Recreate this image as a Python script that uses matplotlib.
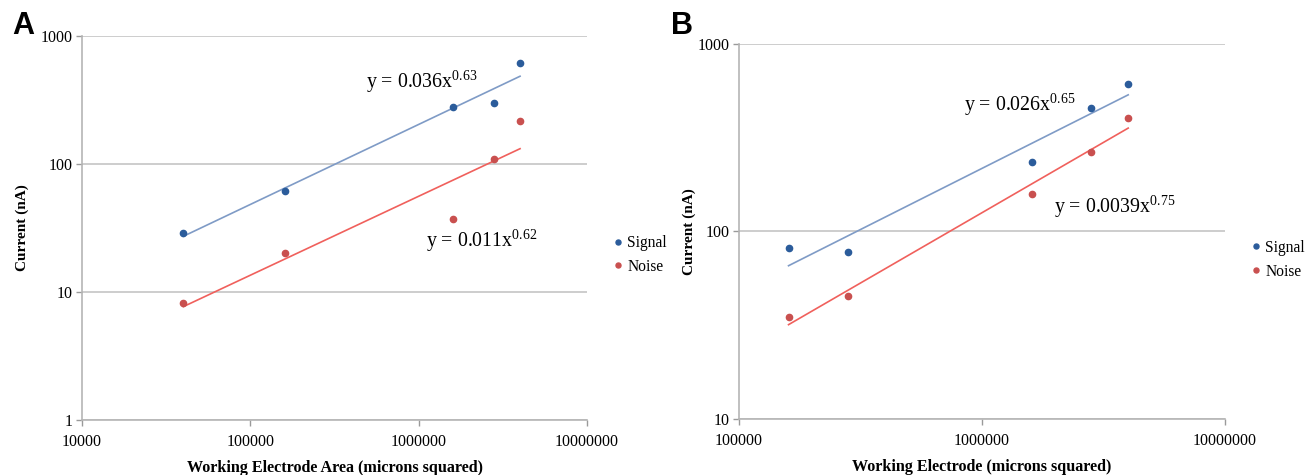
import numpy as np
import matplotlib
matplotlib.use("Agg")
import matplotlib.pyplot as plt
from matplotlib.ticker import FixedLocator, FuncFormatter, NullLocator

# panel A: working electrode area (um^2) vs current (nA)
area_a = [40000, 160000, 1600000, 2800000, 4000000]
signal_a = [28.7, 61.9, 278, 303, 615]
noise_a = [8.15, 20.3, 37, 110, 217]
# panel B
area_b = [160000, 280000, 1600000, 2800000, 4000000]
signal_b = [81.8, 77.6, 236, 454, 612]
noise_b = [35.0, 45.2, 159, 265, 402]

eq_a = ["y = 0.036x$^{0.63}$", "y = 0.011x$^{0.62}$"]
eq_b = ["y = 0.026x$^{0.65}$", "y = 0.0039x$^{0.75}$"]

SIG = "#2b5c9b"
NOI = "#c9504f"
SIG_LINE = "#7f9bc6"
NOI_LINE = "#f0605c"
GRID = "#cdcdcd"

plt.rcParams.update({
    "font.family": "Liberation Serif",
    "mathtext.fontset": "custom",
    "mathtext.rm": "Liberation Serif",
    "mathtext.it": "Liberation Serif",
})


def trend(ax, x, y, color):
    lx, ly = np.log10(x), np.log10(y)
    k, b = np.polyfit(lx, ly, 1)
    xs = np.array([min(x), max(x)])
    ax.plot(xs, 10 ** (b + k * np.log10(xs)), color=color, lw=1.2, zorder=2)


def panel(ax, x, sig, noi, xlim, ylim, xlabel):
    ax.set_xscale("log")
    ax.set_yscale("log")
    ax.set_xlim(*xlim)
    ax.set_ylim(*ylim)
    ax.yaxis.grid(True, color=GRID, lw=1.4)
    ax.set_axisbelow(True)
    trend(ax, x, sig, SIG_LINE)
    trend(ax, x, noi, NOI_LINE)
    ax.plot(x, sig, "o", color=SIG, ms=4.5, ls="none", label="Signal", zorder=3)
    ax.plot(x, noi, "o", color=NOI, ms=4.5, ls="none", label="Noise", zorder=3)
    xt = 10.0 ** np.arange(np.log10(xlim[0]), np.log10(xlim[1]) + 1)
    yt = 10.0 ** np.arange(np.log10(ylim[0]), np.log10(ylim[1]) + 1)
    ax.xaxis.set_major_locator(FixedLocator(xt))
    ax.yaxis.set_major_locator(FixedLocator(yt))
    ax.xaxis.set_minor_locator(NullLocator())
    ax.yaxis.set_minor_locator(NullLocator())
    fmt = FuncFormatter(lambda v, p: f"{int(round(v))}")
    ax.xaxis.set_major_formatter(fmt)
    ax.yaxis.set_major_formatter(fmt)
    ax.tick_params(axis="both", labelsize=11.5, color="#9a9a9a", length=4, width=1, pad=6)
    ax.tick_params(axis="y", pad=3)
    for s in ["top", "right"]:
        ax.spines[s].set_visible(False)
    for s in ["left", "bottom"]:
        ax.spines[s].set_color("#b5b5b5")
        ax.spines[s].set_linewidth(1.2)
    ax.set_xlabel(xlabel, fontsize=11.6, fontweight="bold", labelpad=7)
    ax.set_ylabel("Current (nA)", fontsize=11, fontweight="bold")


fig = plt.figure(figsize=(13.06, 4.75), dpi=100)
ax1 = fig.add_axes([0.0628, 0.1158, 0.3867, 0.808])
ax2 = fig.add_axes([0.5658, 0.1179, 0.3721, 0.7895])

panel(ax1, area_a, signal_a, noise_a, (1e4, 1e7), (1, 1000),
      "Working Electrode Area (microns squared)")
panel(ax2, area_b, signal_b, noise_b, (1e5, 1e7), (10, 1000),
      "Working Electrode (microns squared)")
ax1.yaxis.labelpad = 8
ax2.yaxis.labelpad = 1

ax1.text(0.562, 0.880, eq_a[0], transform=ax1.transAxes, fontsize=14.3, va="center")
ax1.text(0.681, 0.466, eq_a[1], transform=ax1.transAxes, fontsize=14.3, va="center")
ax2.text(0.463, 0.837, eq_b[0], transform=ax2.transAxes, fontsize=14.3, va="center")
ax2.text(0.648, 0.565, eq_b[1], transform=ax2.transAxes, fontsize=14.3, va="center")

for ax, bx, by in [(ax1, 1.052, 0.43), (ax2, 1.054, 0.425)]:
    ax.legend(loc="center left", bbox_to_anchor=(bx, by), frameon=False,
              fontsize=11.2, handlelength=0.6, handletextpad=0.3, borderpad=0,
              borderaxespad=0, labelspacing=0.5, markerscale=0.8)

fig.text(0.009, 0.945, "A", fontsize=22, fontweight="bold", family="Liberation Sans", va="center")
fig.text(0.514, 0.945, "B", fontsize=22, fontweight="bold", family="Liberation Sans", va="center")

fig.savefig("out.png", dpi=100, facecolor="white")
